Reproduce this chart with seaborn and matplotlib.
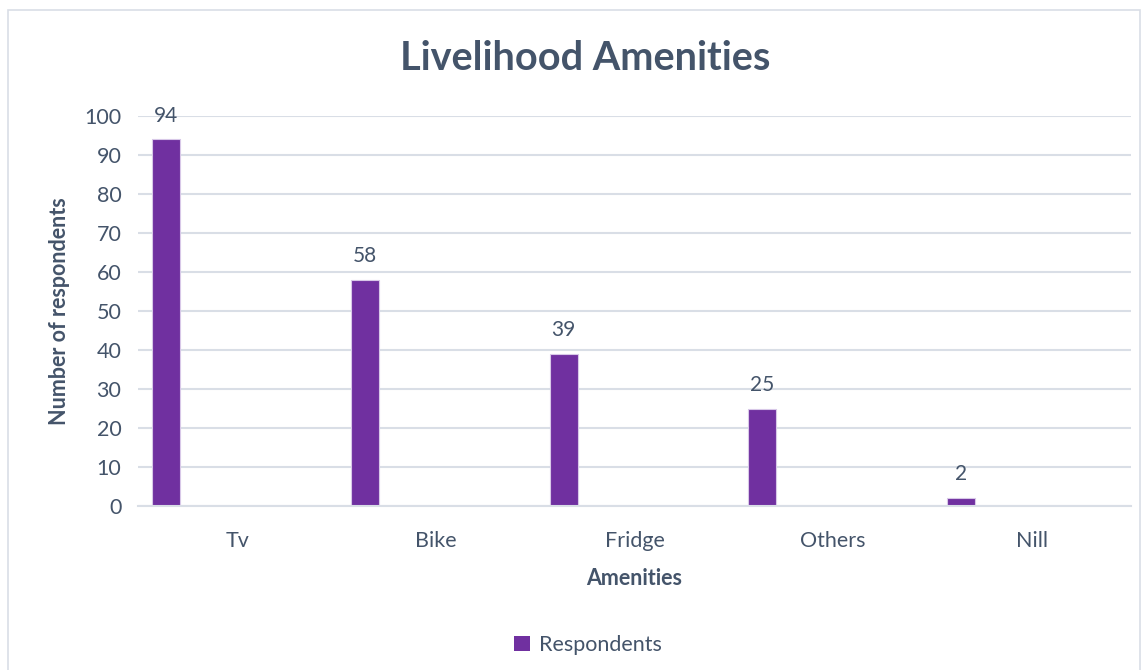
import pandas as pd
import matplotlib.pyplot as plt
import seaborn as sns
from matplotlib.patches import Rectangle, Patch

# данные с графика
amenities = ['Tv', 'Bike', 'Fridge', 'Others', 'Nill']
respondents = [94, 58, 39, 25, 2]

bar_color = '#7030A0'
text_color = '#44546A'
grid_color = '#D9DEE6'

df = pd.DataFrame({'Amenities': amenities, 'Respondents': respondents})

sns.set_theme(style='white')
plt.rcParams['font.family'] = ['Lato', 'DejaVu Sans']

fig = plt.figure(figsize=(11.46, 6.70), dpi=100)
ax = fig.add_axes([138 / 1146, 1 - 506 / 670, (1131 - 138) / 1146, (506 - 116) / 670])

sns.barplot(data=df, x='Amenities', y='Respondents', color=bar_color,
            width=0.14, saturation=1, ax=ax, edgecolor='#D8C8E8', linewidth=0.8)

# Excel-подобное смещение столбцов влево внутри категории
shift = -0.357
for p in ax.patches:
    p.set_x(p.get_x() + shift)

ax.bar_label(ax.containers[0], padding=10, fontsize=15, color=text_color)

ax.set_xlim(-0.5, len(amenities) - 0.5)
ax.set_ylim(0, 100)
ax.set_yticks(range(0, 101, 10))
ax.yaxis.grid(True, color=grid_color, linewidth=1.5)
ax.set_axisbelow(True)
for s in ['top', 'right', 'left']:
    ax.spines[s].set_visible(False)
ax.spines['bottom'].set_color(grid_color)
ax.spines['bottom'].set_linewidth(1.5)
ax.tick_params(axis='both', length=0, labelsize=15.5, labelcolor=text_color)
ax.tick_params(axis='x', pad=18)
ax.tick_params(axis='y', pad=12)

ax.set_xlabel('Amenities', fontsize=15.5, fontweight='bold', color=text_color, labelpad=12)
ax.set_ylabel('Number of respondents', fontsize=15.5, fontweight='bold', color=text_color, labelpad=10)

fig.text(585 / 1146, 1 - 58 / 670, 'Livelihood Amenities', ha='center', va='center',
         fontsize=28.5, fontweight='bold', color=text_color)

handles = [Patch(facecolor=bar_color, edgecolor='none', label='Respondents')]
fig.legend(handles=handles, loc='center', bbox_to_anchor=(588 / 1146, 1 - 645 / 670),
           frameon=False, fontsize=15.5, labelcolor=text_color, handlelength=0.75,
           handleheight=0.75, handletextpad=0.4)

# рамка области диаграммы
fig.patches.append(Rectangle((8 / 1146, -0.01), (1140 - 8) / 1146, 1 - 10 / 670 + 0.01,
                             transform=fig.transFigure, fill=False,
                             edgecolor='#D9DEE6', linewidth=1.2))

plt.savefig('out.png', dpi=100)
